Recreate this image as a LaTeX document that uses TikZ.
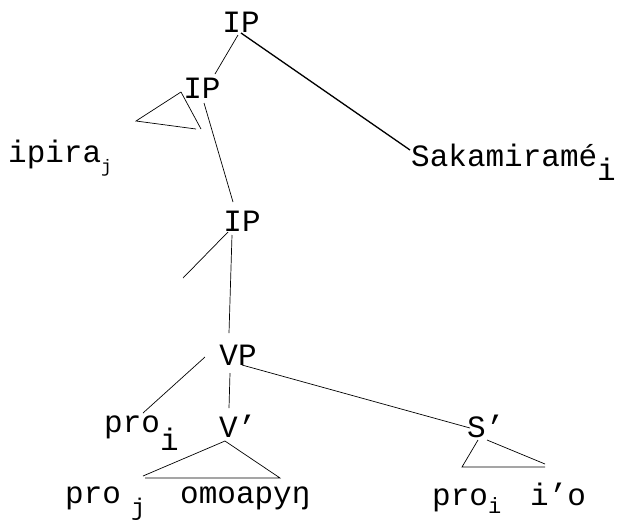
\documentclass[tikz,border=0pt]{standalone}
\usepackage{fontspec}
\setmainfont{Liberation Mono}
\begin{document}
\begin{tikzpicture}[x=1pt,y=-1pt,
  lbl/.style={inner sep=0pt,font=\fontsize{31}{34}\selectfont},
  edge/.style={line width=0.7pt},
  heavy/.style={line width=1.3pt}]
\useasboundingbox (0,0) rectangle (623,520);
% labels
\node[lbl,anchor=base] (ip1) at (241,32) {IP};
\node[lbl,anchor=base] (ip2) at (202,98) {IP};
\node[lbl,anchor=base] (ip3) at (242,231) {IP};
\node[lbl,anchor=base] (vp) at (238,365) {VP};
\node[lbl,anchor=base west] (vbar) at (219,437) {V’};
\node[lbl,anchor=base west] (sbar) at (467,437) {S’};
\node[lbl,anchor=base west] (ipira) at (8,162) {ipira\raisebox{-10pt}{\fontsize{18}{20}\selectfont j}};
\node[lbl,anchor=base west] (saka) at (411,166) {Sakamiramé\raisebox{-14pt}{i}};
\node[lbl,anchor=base west] (proi) at (104,432) {pro\raisebox{-18pt}{i}};
\node[lbl,anchor=base west] (proj) at (65,503) {pro\hspace{10pt}\raisebox{-12pt}{\fontsize{24}{26}\selectfont j}};
\node[lbl,anchor=base west] (omo) at (180,503) {omoapyŋ};
\node[lbl,anchor=base west] (proi2) at (432,505) {pro\raisebox{-8pt}{\fontsize{22}{24}\selectfont i}};
\node[lbl,anchor=base west] (io) at (530,505) {i’o};
% connector end points
\coordinate (a1) at (238,35);  \coordinate (a2) at (215,74);
\coordinate (b1) at (241,33);  \coordinate (b2) at (410,150);
\coordinate (t1) at (181,92);  \coordinate (t2) at (136,121);
\coordinate (t3) at (196,129); \coordinate (t4) at (201,129);
\coordinate (c1) at (204,103); \coordinate (c2) at (233,202);
\coordinate (d1) at (228,232); \coordinate (d2) at (183,278);
\coordinate (e1) at (232,235); \coordinate (e2) at (229,333);
\coordinate (f1) at (205,357); \coordinate (f2) at (143,413);
\coordinate (g1) at (230,373); \coordinate (g2) at (229,408);
\coordinate (h1) at (242,365); \coordinate (h2) at (470,428);
\coordinate (v1) at (225,441); \coordinate (v2) at (143,476);
\coordinate (v3) at (280,478); \coordinate (v4) at (145,478);
\coordinate (s1) at (478,440); \coordinate (s2) at (462,467);
\coordinate (s3) at (487,440); \coordinate (s4) at (545,464);
\coordinate (s5) at (545,467);
% connectors
\draw[edge] (a1) -- (a2);
\draw[heavy] (b1) -- (b2);
\draw[edge] (t1) -- (t2) -- (t3);
\draw[edge] (t1) -- (t4);
\draw[edge] (c1) -- (c2);
\draw[edge] (d1) -- (d2);
\draw[edge] (e1) -- (e2);
\draw[edge] (f1) -- (f2);
\draw[edge] (g1) -- (g2);
\draw[edge] (h1) -- (h2);
\draw[edge] (v2) -- (v1) -- (v3) -- (v4);
\draw[edge] (s1) -- (s2) -- (s5);
\draw[edge] (s3) -- (s4);
\end{tikzpicture}
\end{document}
